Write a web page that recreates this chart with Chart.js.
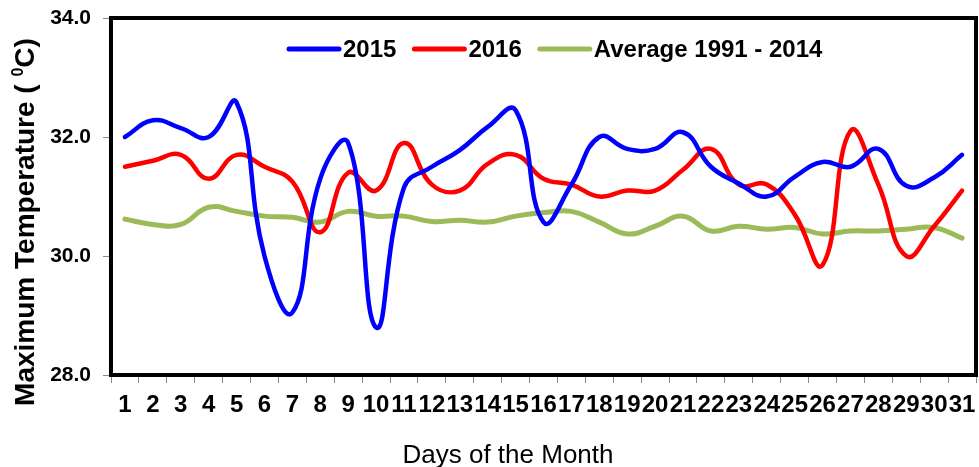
<!DOCTYPE html>
<html>
<head>
<meta charset="utf-8">
<script src="https://cdn.jsdelivr.net/npm/chart.js@4.4.1/dist/chart.umd.min.js"></script>
<style>
  html, body { margin: 0; padding: 0; background: #fff; }
  #wrap { width: 979px; height: 467px; }
</style>
</head>
<body>
<div id="wrap"><canvas id="tempChart" width="979" height="467"></canvas></div>
<script>
// days of the month (x axis)
const days = ['1', '2', '3', '4', '5', '6', '7', '8', '9', '10', '11', '12', '13', '14', '15', '16',
              '17', '18', '19', '20', '21', '22', '23', '24', '25', '26', '27', '28', '29', '30', '31'];

// maximum temperature
const temp2015 = [32.0, 32.28, 32.15, 32.0, 32.58, 30.0, 29.05, 31.3, 31.9, 28.8, 31.15, 31.5, 31.78, 32.17, 32.45, 30.57,
                  31.2, 32.0, 31.8, 31.8, 32.08, 31.5, 31.22, 31.0, 31.33, 31.58, 31.5, 31.8, 31.18, 31.32, 31.7];
const temp2016 = [31.5, 31.6, 31.7, 31.3, 31.7, 31.5, 31.25, 30.4, 31.4, 31.1, 31.9, 31.2, 31.1, 31.55, 31.7, 31.3,
                  31.2, 31.0, 31.1, 31.1, 31.45, 31.8, 31.2, 31.2, 30.7, 29.85, 32.1, 31.2, 30.0, 30.5, 31.1];
const tempAverage = [30.62, 30.53, 30.53, 30.82, 30.75, 30.67, 30.65, 30.57, 30.75, 30.67, 30.67, 30.58, 30.6, 30.57, 30.67, 30.73,
                     30.75, 30.57, 30.37, 30.5, 30.67, 30.42, 30.5, 30.45, 30.48, 30.37, 30.42, 30.42, 30.45, 30.48, 30.3];

// y axis ticks
const yTicks = [28, 30, 32, 34];

const FONT = "'Liberation Sans', Arial, sans-serif";

// frame, legend inside the plot and axis titles
const decorations = {
    id: 'decorations',
    afterDatasetsDraw(chart) {
        const { ctx, chartArea: a } = chart;
        ctx.save();

        // black frame round the plot
        ctx.strokeStyle = '#000';
        ctx.lineWidth = 4;
        ctx.strokeRect(a.left, a.top, a.right - a.left, a.bottom - a.top);

        // legend
        ctx.font = 'bold 24px ' + FONT;
        ctx.textBaseline = 'alphabetic';
        ctx.textAlign = 'left';
        let x = 289;
        const ly = 49;
        chart.data.datasets.forEach(ds => {
            ctx.strokeStyle = ds.borderColor;
            ctx.lineWidth = 5;
            ctx.lineCap = 'round';
            ctx.beginPath();
            ctx.moveTo(x, ly);
            ctx.lineTo(x + 50, ly);
            ctx.stroke();
            ctx.fillStyle = '#000';
            ctx.fillText(ds.label, x + 54, ly + 8);
            x += 54 + ctx.measureText(ds.label).width + 18;
        });

        // y title with a small raised 0
        ctx.translate(34, 222);
        ctx.rotate(-Math.PI / 2);
        const big = 'bold 28px ' + FONT;
        const small = 'bold 16px ' + FONT;
        const p1 = 'Maximum Temperature ( ', p2 = '0', p3 = 'C)';
        ctx.font = big;
        const w1 = ctx.measureText(p1).width, w3 = ctx.measureText(p3).width;
        ctx.font = small;
        const w2 = ctx.measureText(p2).width;
        let tx = -(w1 + w2 + w3) / 2;
        ctx.fillStyle = '#000';
        ctx.font = big;
        ctx.fillText(p1, tx, 0);
        tx += w1;
        ctx.font = small;
        ctx.fillText(p2, tx, -11);
        tx += w2;
        ctx.font = big;
        ctx.fillText(p3, tx, 0);
        ctx.setTransform(1, 0, 0, 1, 0, 0);

        // x title
        ctx.font = '26px ' + FONT;
        ctx.textAlign = 'center';
        ctx.fillText('Days of the Month', 508, 463);

        ctx.restore();
    }
};

const ctx = document.getElementById('tempChart').getContext('2d');
const tempChart = new Chart(ctx, {
    type: 'line',
    data: {
        labels: days,
        datasets: [
            { label: '2015', data: temp2015, borderColor: '#0000FF', borderWidth: 4.5 },
            { label: '2016', data: temp2016, borderColor: '#FF0000', borderWidth: 4.5 },
            { label: 'Average 1991 - 2014', data: tempAverage, borderColor: '#9BBB59', borderWidth: 5 }
        ].map(ds => Object.assign(ds, {
            fill: false,
            tension: 0.45,
            pointRadius: 0,
            borderCapStyle: 'round',
            borderJoinStyle: 'round'
        }))
    },
    options: {
        responsive: false,
        animation: false,
        devicePixelRatio: 1,
        layout: { padding: { top: 18, right: 3, left: 0, bottom: 0 } },
        plugins: {
            legend: { display: false },
            tooltip: { enabled: false }
        },
        scales: {
            x: {
                offset: true,
                grid: { offset: true, drawOnChartArea: false, tickLength: 8, color: '#888' },
                border: { display: false },
                ticks: {
                    color: '#000',
                    font: { family: FONT, size: 24, weight: 'bold' },
                    autoSkip: false,
                    maxRotation: 0,
                    padding: 8
                },
                afterFit: s => { s.height = 92; s.paddingLeft = 0; s.paddingRight = 0; }
            },
            y: {
                min: 28,
                max: 34,
                afterBuildTicks: s => { s.ticks = yTicks.map(v => ({ value: v })); },
                grid: { drawOnChartArea: false, tickLength: 8, color: '#888' },
                border: { display: false },
                ticks: {
                    color: '#000',
                    font: { family: FONT, size: 21, weight: 'bold' },
                    padding: 12,
                    callback: v => v.toFixed(1)
                },
                afterFit: s => { s.width = 111; s.paddingTop = 0; s.paddingBottom = 0; }
            }
        }
    },
    plugins: [decorations]
});
</script>
</body>
</html>
